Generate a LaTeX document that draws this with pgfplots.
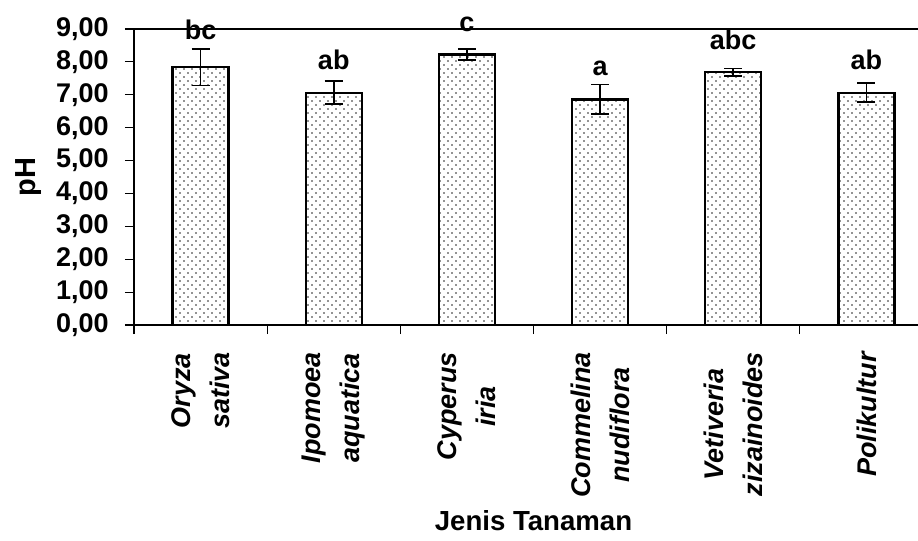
\documentclass[border=0pt]{standalone}
\usepackage{pgfplots}
\pgfplotsset{compat=1.18}
\usepackage{pgfplotstable}
\usepackage{fontspec}
\setmainfont{Liberation Sans}
\usetikzlibrary{patterns.meta}

\tikzdeclarepattern{
  name=sparsedots,
  type=uncolored,
  bottom left={(-.5pt,-.5pt)},
  top right={(3.5pt,3.5pt)},
  tile size={(4pt,4pt)},
  code={
    \fill (0pt,0pt) circle (.42pt);
    \fill (2pt,2pt) circle (.42pt);
  }
}

\pgfplotstableread{
x y e lab yl
0 7.84 0.56 bc 8.67
1 7.06 0.35 ab 7.75
2 8.22 0.17 c 8.91
3 6.86 0.45 a 7.57
4 7.69 0.11 abc 8.36
5 7.06 0.29 ab 7.75
}\datatable

\begin{document}
\begin{tikzpicture}
\begin{axis}[
  name=ax,
  at={(67pt,-162.5pt)}, anchor=south west,
  scale only axis,
  width=399.5pt, height=148pt,
  xmin=-0.5, xmax=5.5,
  ymin=0, ymax=9,
  clip=false,
  axis line style={line width=0.7pt, black},
  xtick pos=bottom, ytick pos=left,
  tick align=outside,
  major tick length=4.5pt,
  tick style={line width=0.6pt, black},
  ytick={0,1,...,9},
  xtick={-0.5,0.5,...,5.5},
  x tick label as interval,
  xticklabels={{Oryza\\sativa},{Ipomoea\\aquatica},{Cyperus\\iria},{Commelina\\nudiflora},{Vetiveria\\zizainoides},{Polikultur}},
  xticklabel style={rotate=90, anchor=east, align=center, inner sep=0pt,
    font=\fontsize{13.5}{19.5}\selectfont\bfseries\itshape},
  xticklabel shift=9pt,
  yticklabel style={/pgf/number format/fixed, /pgf/number format/fixed zerofill,
    /pgf/number format/precision=2, /pgf/number format/use comma,
    /pgf/number format/assume math mode=true, inner sep=0pt,
    font=\fontsize{13.5}{15}\selectfont\bfseries},
  yticklabel shift=8pt,
  xlabel={Jenis Tanaman},
  ylabel={pH},
  xlabel style={at={(axis description cs:0.5,0)}, anchor=center, yshift=-98pt,
    font=\fontsize{13.8}{16}\selectfont\bfseries},
  ylabel style={at={(axis description cs:0,0.5)}, anchor=center, rotate=0, yshift=52.5pt,
    font=\fontsize{14.5}{16}\selectfont\bfseries},
]
\addplot[black, line width=0.8pt, mark=none, forget plot] coordinates {(-0.5,9) (5.5,9)};
\addplot[ybar, bar width=0.42, bar shift=0pt, draw=black, line width=1.2pt,
  pattern=sparsedots, pattern color=black!85,
  error bars/.cd, y dir=both, y explicit,
  error bar style={line width=0.9pt, black, solid},
  error mark options={rotate=90, mark size=4.5pt, line width=0.9pt, black}]
  table[x=x, y=y, y error=e] {\datatable};
\addplot[only marks, mark=none, nodes near coords, point meta=explicit symbolic,
  every node near coord/.append style={inner sep=0pt, anchor=south,
    font=\fontsize{13.5}{15}\selectfont\bfseries}]
  table[x=x, y=yl, meta=lab] {\datatable};
\end{axis}
\pgfresetboundingbox
\useasboundingbox (0pt,0pt) rectangle (459pt,-270.5pt);
\end{tikzpicture}
\end{document}
